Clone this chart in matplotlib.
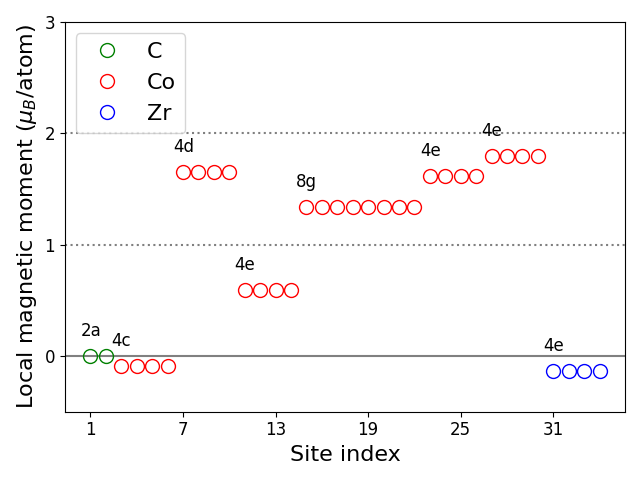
import numpy as np
import matplotlib.pyplot as plt

# site indices and local moments
c_sites = [1, 2]
c_moms = [0.0, 0.0]
co_sites = list(range(3, 31))
co_moms = [-0.09] * 4 + [1.65] * 4 + [0.59] * 4 + [1.34] * 8 + [1.62] * 4 + [1.80] * 4
zr_sites = [31, 32, 33, 34]
zr_moms = [-0.135] * 4

# Wyckoff labels: (first site, moment, label)
wyck_sites = [1, 3, 7, 11, 15, 23, 27, 31]
wyck_moms = [0.0, -0.09, 1.65, 0.59, 1.34, 1.62, 1.80, -0.135]
wyck_labels = ['2a', '4c', '4d', '4e', '8g', '4e', '4e', '4e']

fig, ax = plt.subplots(figsize=(6.4, 4.8), dpi=100)

ax.axhline(0, color='grey', lw=1.5)
ax.axhline(1, color='grey', ls=':', lw=1.5)
ax.axhline(2, color='grey', ls=':', lw=1.5)

ax.plot(c_sites, c_moms, 'o', mfc='none', mec='green', ms=10, label='C')
ax.plot(co_sites, co_moms, 'o', mfc='none', mec='red', ms=10, label='Co')
ax.plot(zr_sites, zr_moms, 'o', mfc='none', mec='blue', ms=10, label='Zr')

for s, m, lab in zip(wyck_sites, wyck_moms, wyck_labels):
    ax.text(s - 0.65, m + 0.18, lab, fontsize=12)

ax.set_xticks(np.arange(1, 35, 6))
ax.set_yticks([0, 1, 2, 3])
ax.set_ylim(-0.5, 3)
ax.tick_params(labelsize=12)
ax.set_xlabel('Site index', fontsize=16)
ax.set_ylabel(r'Local magnetic moment ($\mu_B$/atom)', fontsize=16)
ax.legend(loc='upper left', fontsize=16)

plt.tight_layout()
plt.savefig('out.png')
